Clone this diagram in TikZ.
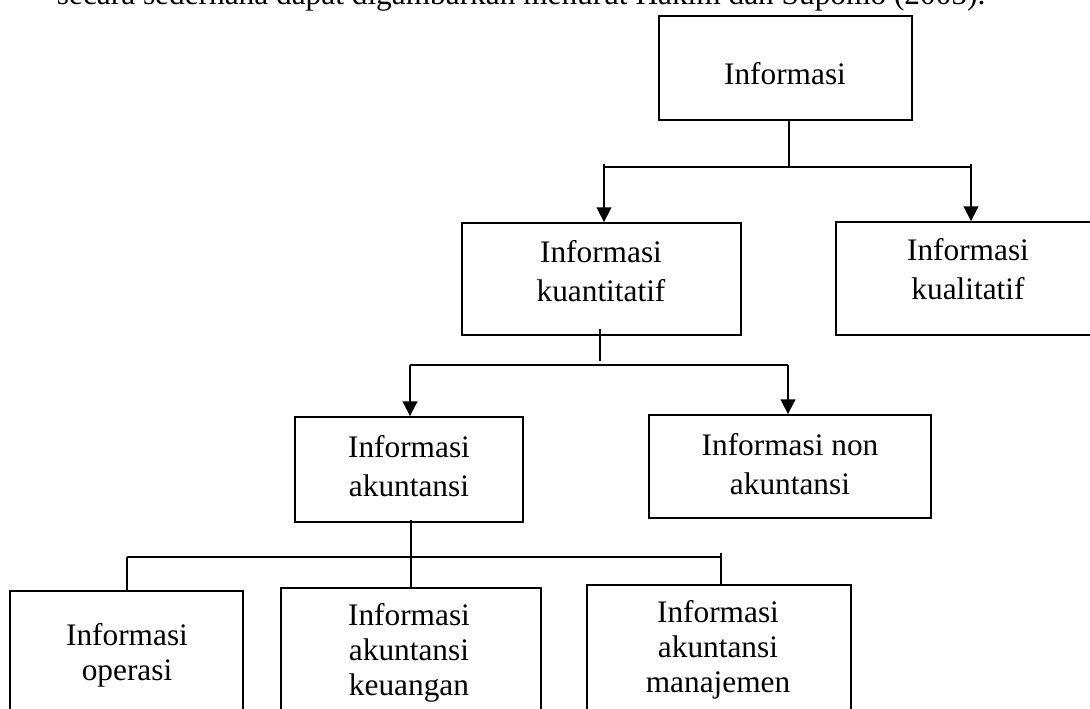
\documentclass[tikz,border=0pt]{standalone}
\usepackage{fontspec}
\setmainfont{Liberation Serif}
\usetikzlibrary{arrows.meta,fit}

\tikzset{every picture/.style={line width=1.4pt}}
\tikzset{
  box/.style={draw, rectangle, inner sep=0pt},
  lbl/.style={inner sep=0pt, anchor=north, align=center, font=\fontsize{23.5}{28.9}\selectfont},
  lblb/.style={lbl, font=\fontsize{23.5}{25.9}\selectfont},
  arr/.style={-{Triangle[width=11pt,length=11pt]}}
}

\begin{document}
\begin{tikzpicture}[x=0.75pt,y=0.75pt,yscale=-1,xscale=1]
\useasboundingbox (0,0) rectangle (1090,709);
\clip (0,0) rectangle (1090,709);

% Text Node (running text, cut by the top edge)
\node (sentence) at (56,4.5) [anchor=base west, inner sep=0pt, font=\fontsize{23.5}{28.9}\selectfont] {secara sederhana dapat digambarkan menurut Hakim dan Supomo (2005).};

%Shape: Rectangle
\node (info) [box, fit={(659,16) (912,120)}] {};
%Shape: Rectangle
\node (kuan) [box, fit={(462,223) (741,335)}] {};
%Shape: Rectangle
\node (kual) [box, fit={(836,222) (1100,335)}] {};
%Shape: Rectangle
\node (akun) [box, fit={(295,417) (523,522)}] {};
%Shape: Rectangle
\node (non) [box, fit={(649,415) (931,518)}] {};
%Shape: Rectangle
\node (ops) [box, fit={(10,591) (243,730)}] {};
%Shape: Rectangle
\node (keu) [box, fit={(281,588) (541,730)}] {};
%Shape: Rectangle
\node (man) [box, fit={(587,585) (851,730)}] {};

% Text Node
\node (tinfo) at (785,62) [lbl] {Informasi};
% Text Node
\node (tkuan) at (601,240) [lbl] {Informasi\\kuantitatif};
% Text Node
\node (tkual) at (968,238) [lbl] {Informasi\\kualitatif};
% Text Node
\node (takun) at (409,435) [lbl] {Informasi\\akuntansi};
% Text Node
\node (tnon) at (790,433) [lbl] {Informasi non\\akuntansi};
% Text Node
\node (tops) at (127,623) [lblb] {Informasi\\operasi};
% Text Node
\node (tkeu) at (409,603) [lblb] {Informasi\\akuntansi\\keuangan};
% Text Node
\node (tman) at (718,600) [lblb] {Informasi\\akuntansi\\manajemen};

% bus points
\coordinate (b1c) at (789,167);
\coordinate (b1l) at (604,167);
\coordinate (b1r) at (971,167);
\coordinate (s2t) at (600,329);
\coordinate (s2b) at (600,361);
\coordinate (b2l) at (410,365);
\coordinate (b2r) at (788,365);
\coordinate (s3t) at (411,520);
\coordinate (b3l) at (127,557);
\coordinate (b3r) at (721,557);
\coordinate (b3rt) at (721,553);

%Straight Lines
\draw (info.south -| b1c) -- (b1c);
\draw (b1l) -- (b1r);
\draw [arr] ([yshift=-2.25pt]b1l) -- (b1l |- kuan.north);
\draw [arr] ([yshift=-2.25pt]b1r) -- (b1r |- kual.north);

%Straight Lines
\draw (s2t) -- (s2b);
\draw (b2l) -- (b2r);
\draw [arr] (b2l) -- (b2l |- akun.north);
\draw [arr] (b2r) -- (b2r |- non.north);

%Straight Lines
\draw (s3t) -- (s3t |- keu.north);
\draw (b3l) -- (b3r);
\draw (b3l) -- (b3l |- ops.north);
\draw (b3rt) -- (b3rt |- man.north);

\end{tikzpicture}
\end{document}
